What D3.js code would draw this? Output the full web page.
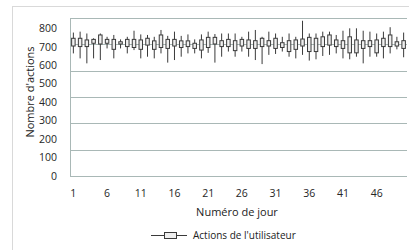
<!DOCTYPE html>
<html>
<head>
<meta charset="utf-8">
<script src="https://cdn.jsdelivr.net/npm/d3@7"></script>
<style>
  body { margin: 0; background: #fff; }
  svg { display: block; font-family: "Open Sans", "Liberation Sans", sans-serif; }
  .tick-label { font-size: 10.5px; fill: #262626; }
</style>
</head>
<body>
<div id="chart"></div>
<script>
// jours 1..50
const days = d3.range(1, 51);
// valeurs
const high  = [778,783,773,747,773,755,765,741,755,788,768,765,755,792,760,783,760,768,741,768,783,770,773,773,773,755,783,792,755,783,773,755,773,755,842,773,773,783,783,765,788,801,801,788,783,773,783,807,755,778];
const open  = [705,702,702,720,716,720,687,716,702,697,687,710,687,697,692,705,697,702,692,683,697,716,702,702,680,705,692,692,702,705,692,697,675,687,705,675,675,702,710,702,692,668,668,692,702,668,702,702,705,692];
const close = [747,747,738,741,765,741,741,728,741,741,738,747,733,765,741,741,733,733,720,738,752,752,734,741,734,741,738,734,747,734,747,723,734,738,743,752,747,755,765,738,734,755,738,734,734,738,747,765,728,734];
const low   = [665,638,611,638,629,692,638,692,665,683,638,647,638,665,615,629,647,665,665,638,668,615,647,675,647,675,647,629,607,657,662,675,647,638,657,626,633,651,657,665,638,633,647,611,647,647,638,665,687,644];
const yTicks = [0, 100, 200, 300, 400, 500, 600, 700, 800];
const xTicks = [1, 6, 11, 16, 21, 26, 31, 36, 41, 46];
const yMax = 857; // haut de la zone de tracé

const W = 409, H = 250;
const plot = { left: 70, right: 407, top: 18, bottom: 176 };

const svg = d3.select("#chart").append("svg")
    .attr("width", W)
    .attr("height", H);

// cadre du graphique
svg.append("rect")
    .attr("x", 12.5).attr("y", 6.5)
    .attr("width", 420).attr("height", 260)
    .attr("fill", "none")
    .attr("stroke", "#d9d9d9");

const x = d3.scaleBand().domain(days).range([plot.left, plot.right]).padding(0);
const y = d3.scaleLinear().domain([0, yMax]).range([plot.bottom, plot.top]);

// quadrillage (6 intervalles, comme l'original)
const gridVals = d3.range(0, 7).map(k => k * yMax / 6);
svg.append("g").selectAll("line")
    .data(gridVals)
    .join("line")
    .attr("x1", plot.left).attr("x2", plot.right)
    .attr("y1", d => Math.round(y(d)) + 0.5)
    .attr("y2", d => Math.round(y(d)) + 0.5)
    .attr("stroke", "#a9b8b6")
    .attr("stroke-width", 1);

svg.append("line")
    .attr("x1", plot.left + 0.5).attr("x2", plot.left + 0.5)
    .attr("y1", plot.top).attr("y2", plot.bottom + 0.5)
    .attr("stroke", "#a9b8b6");

// libellés axe y
svg.append("g").selectAll("text")
    .data(yTicks)
    .join("text")
    .attr("class", "tick-label")
    .attr("x", 57)
    .attr("y", d => y(d))
    .attr("dy", "0.35em")
    .attr("text-anchor", "end")
    .text(d => d);

// libellés axe x
svg.append("g").selectAll("text")
    .data(xTicks)
    .join("text")
    .attr("class", "tick-label")
    .attr("x", d => x(d) + x.bandwidth() / 2)
    .attr("y", 197)
    .attr("text-anchor", "middle")
    .text(d => d);

// titres
svg.append("text")
    .attr("x", 237).attr("y", 216)
    .attr("text-anchor", "middle")
    .style("font-size", "11px")
    .attr("fill", "#222")
    .text("Numéro de jour");

svg.append("text")
    .attr("transform", "translate(34, 92) rotate(-90)")
    .attr("text-anchor", "middle")
    .style("font-size", "11px")
    .attr("fill", "#222")
    .text("Nombre d'actions");

// boîtes
const stock = days.map((d, i) => ({ day: d, high: high[i], low: low[i], open: open[i], close: close[i] }));
const boxW = 3.5;
const g = svg.append("g");

g.selectAll(".wick")
    .data(stock)
    .join("line")
    .attr("class", "wick")
    .attr("x1", d => x(d.day) + x.bandwidth() / 2)
    .attr("x2", d => x(d.day) + x.bandwidth() / 2)
    .attr("y1", d => y(d.high))
    .attr("y2", d => y(d.low))
    .attr("stroke", "#3a3a3a")
    .attr("stroke-width", 1);

g.selectAll(".box")
    .data(stock)
    .join("rect")
    .attr("class", "box")
    .attr("x", d => x(d.day) + x.bandwidth() / 2 - boxW / 2)
    .attr("y", d => y(Math.max(d.open, d.close)))
    .attr("width", boxW)
    .attr("height", d => Math.abs(y(d.open) - y(d.close)))
    .attr("fill", "#efefef")
    .attr("stroke", "#3a3a3a")
    .attr("stroke-width", 1);

// légende
const lg = svg.append("g");
lg.append("line")
    .attr("x1", 151).attr("x2", 187)
    .attr("y1", 235.5).attr("y2", 235.5)
    .attr("stroke", "#3a3a3a");
lg.append("rect")
    .attr("x", 164.5).attr("y", 232.5)
    .attr("width", 12).attr("height", 6)
    .attr("fill", "#efefef")
    .attr("stroke", "#3a3a3a");
lg.append("text")
    .attr("x", 193).attr("y", 239)
    .style("font-size", "10px")
    .attr("fill", "#222")
    .text("Actions de l'utilisateur");
</script>
</body>
</html>
